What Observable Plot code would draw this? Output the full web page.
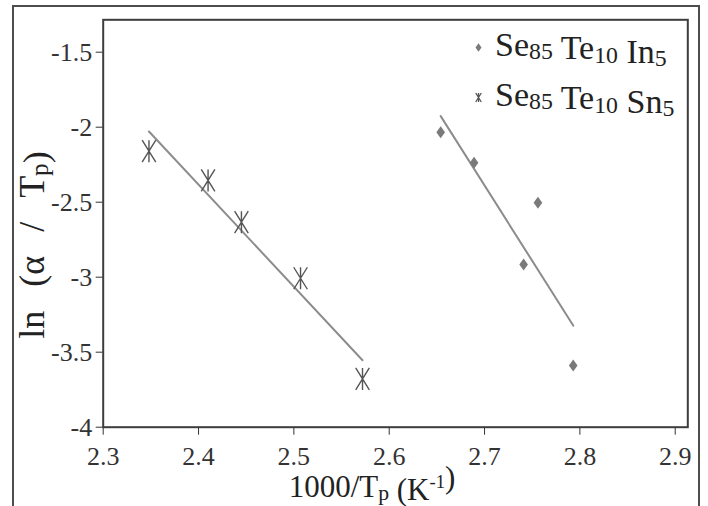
<!DOCTYPE html>
<html><head><meta charset="utf-8">
<script src="https://cdn.jsdelivr.net/npm/d3@7"></script>
<script src="https://cdn.jsdelivr.net/npm/@observablehq/plot@0.6"></script>
<style>
html,body{margin:0;padding:0;background:#fff;width:708px;height:506px;overflow:hidden;}
#wrap{position:relative;width:708px;height:506px;}
#border{position:absolute;left:12px;top:5px;width:688px;height:530px;border:2px solid #4d4d4d;box-sizing:border-box;}
#chart{position:absolute;left:0;top:0;}
#chart text, #chart tspan{font-family:'Liberation Serif', serif !important;}
</style></head><body>
<div id="wrap"><div id="border"></div><div id="chart"></div></div>
<script>
// Se85Te10Sn5 (asterisk markers)
const snX = [2.348, 2.410, 2.445, 2.507, 2.572];
const snY = [-2.16, -2.355, -2.633, -3.007, -3.678];
// Se85Te10In5 (diamond markers)
const inX = [2.654, 2.689, 2.756, 2.741, 2.793];
const inY = [-2.033, -2.237, -2.504, -2.915, -3.589];
const legendIn = [["Se","85"],["Te","10"],["In","5"]];
const legendSn = [["Se","85"],["Te","10"],["Sn","5"]];
const xTicks = [2.3, 2.4, 2.5, 2.6, 2.7, 2.8, 2.9];
const yTicks = [-4, -3.5, -3, -2.5, -2, -1.5];

const snData = snX.map((x, i) => ({x, y: snY[i]}));
const inData = inX.map((x, i) => ({x, y: inY[i]}));

const diamond = {draw(ctx, size) {
  const r = Math.sqrt(size / Math.PI), h = r, w = r * 0.72;
  ctx.moveTo(0, -h); ctx.lineTo(w, 0); ctx.lineTo(0, h); ctx.lineTo(-w, 0); ctx.closePath();
}};
const star = {draw(ctx, size) {
  const r = Math.sqrt(size / Math.PI), h = r, w = r * 0.62;
  ctx.moveTo(0, -h); ctx.lineTo(0, h);
  ctx.moveTo(-w, -h); ctx.lineTo(w, h);
  ctx.moveTo(w, -h); ctx.lineTo(-w, h);
}};

const FONT = "Liberation Serif";
const mL = 102.7, mT = 19.3;
const axes = typeof Plot.axisX === "function" ? [
  Plot.axisX(xTicks, {tickFormat: d => d.toFixed(1), tickSize: 8, tickPadding: 11, label: null, fontFamily: FONT, fontSize: 26, color: "#333"}),
  Plot.axisY(yTicks, {tickFormat: d => String(d), tickSize: 7, tickPadding: 4, label: null, fontFamily: FONT, fontSize: 26, color: "#333"})
] : [];
const svg = Plot.plot({
  width: 708, height: 506,
  marginLeft: mL, marginRight: 20.7, marginTop: mT, marginBottom: 79.3,
  style: {fontFamily: FONT, fontSize: "26px", color: "#333", background: "transparent", overflow: "visible"},
  x: {domain: [2.3, 2.9132], ticks: xTicks, tickFormat: d => d.toFixed(1), tickSize: 8, tickPadding: 11, label: null},
  y: {domain: [-4, -1.284], ticks: yTicks, tickFormat: d => String(d), tickSize: 7, tickPadding: 4, label: null},
  marks: [
    ...axes,
    Plot.frame({stroke: "#3d3d3d", strokeWidth: 2}),
    Plot.linearRegressionY(snData, {x: "x", y: "y", stroke: "#8c8c8c", strokeWidth: 2, ci: 0}),
    Plot.linearRegressionY(inData, {x: "x", y: "y", stroke: "#8c8c8c", strokeWidth: 2, ci: 0}),
    Plot.dot(snData, {x: "x", y: "y", symbol: star, r: 11, stroke: "#555", strokeWidth: 1.4, fill: "none"}),
    Plot.dot(inData, {x: "x", y: "y", symbol: diamond, r: 6, fill: "#7a7a7a", stroke: "none"}),
    Plot.dot([legendIn], {frameAnchor: "top-left", dx: 478 - mL, dy: 47 - mT, symbol: diamond, r: 4.2, fill: "#7a7a7a", stroke: "none"}),
    Plot.dot([legendSn], {frameAnchor: "top-left", dx: 478 - mL, dy: 97 - mT, symbol: star, r: 4.5, stroke: "#555", strokeWidth: 1.3, fill: "none"})
  ]
});
document.getElementById("chart").appendChild(svg);

const s = d3.select(svg);
s.attr("font-family", FONT);
s.selectAll("g").attr("font-family", FONT);
s.selectAll("text").attr("font-family", FONT);

function rich(x, y, parts, size, opts = {}) {
  const t = s.append("text").attr("x", x).attr("y", y)
    .attr("font-size", size).attr("fill", "#222")
    .attr("text-anchor", opts.anchor || "start");
  if (opts.wordSpacing) t.attr("word-spacing", opts.wordSpacing);
  if (opts.rotate) t.attr("transform", `rotate(-90 ${x} ${y})`);
  parts.forEach(p => {
    if (p.sub) {
      t.append("tspan").attr("font-size", size * 0.7).attr("dy", size * 0.1).text(p.sub);
      t.append("tspan").attr("dy", -size * 0.1).text("");
    } else if (p.sup) {
      t.append("tspan").attr("font-size", size * 0.6).attr("dy", -size * 0.38).text(p.sup);
      t.append("tspan").attr("dy", size * 0.38).text("");
    } else {
      t.append("tspan").text(p.t);
    }
  });
  return t;
}
function legendParts(arr) {
  const out = [];
  arr.forEach((d, i) => { out.push({t: (i ? " " : "") + d[0]}); out.push({sub: d[1]}); });
  return out;
}
rich(495, 56, legendParts(legendIn), 34);
rich(495, 106, legendParts(legendSn), 34);
rich(372, 497, [{t: "1000/T"}, {sub: "p"}, {t: " (K"}, {sup: "-1"}, {t: ")"}], 31, {anchor: "middle"});
rich(44, 245, [{t: "ln (\u03b1 / T"}, {sub: "p"}, {t: ")"}], 36, {anchor: "middle", rotate: true, wordSpacing: 15});
</script>
</body></html>
